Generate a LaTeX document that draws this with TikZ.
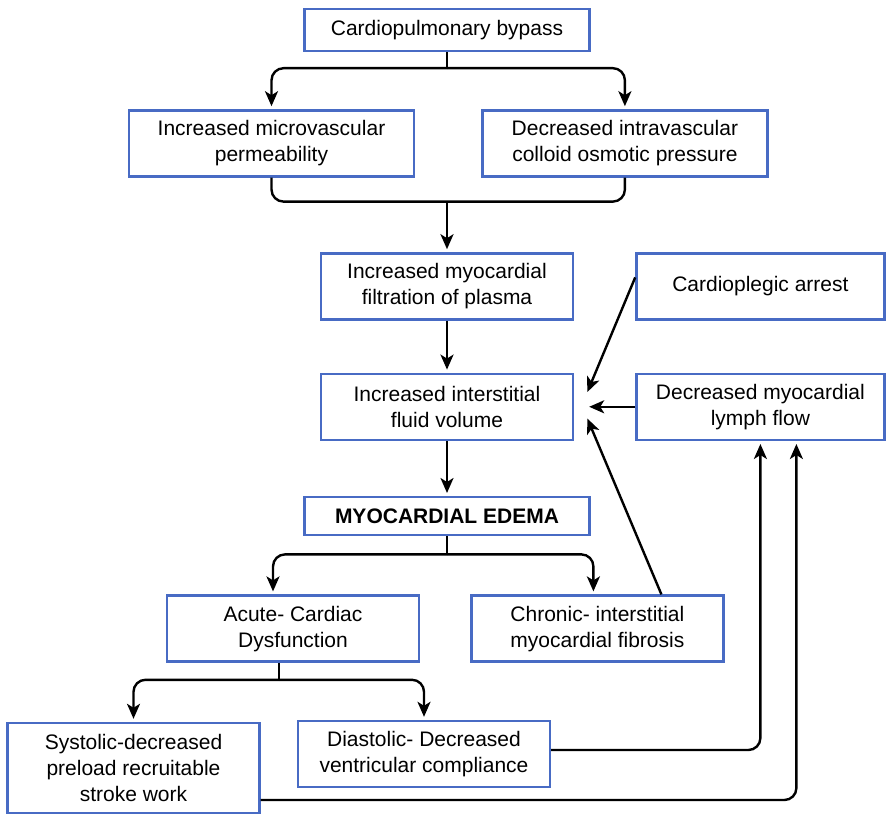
\documentclass[tikz,border=0pt]{standalone}
\usepackage{fontspec}
\setmainfont{Liberation Sans}
\usetikzlibrary{arrows.meta,positioning}
\definecolor{boxblue}{RGB}{72,107,196}

\begin{document}
\begin{tikzpicture}[
    x=1pt,y=1pt,
    >={Stealth[length=15pt,width=13pt,inset=4pt]},
    every node/.style={font=\fontsize{21}{26}\selectfont},
    box/.style={draw=boxblue,line width=2.4pt,align=center,minimum width=252pt,minimum height=66pt,inner sep=2pt},
    link/.style={line width=2.4pt,rounded corners=12pt},
    arr/.style={link,->,shorten >=3pt}
  ]
  \useasboundingbox (0,0) rectangle (889,-818);
  \node[box,minimum width=285pt,minimum height=42pt] (CPB) at (447,-30) {Cardiopulmonary bypass};
  \node[box,minimum width=285pt] (MP) [below=57pt of CPB,xshift=-175.5pt] {Increased microvascular\\permeability};
  \node[box,minimum width=285pt] (OP) [right=66pt of MP] {Decreased intravascular\\colloid osmotic pressure};
  \node[box] (MF) [below=200pt of CPB] {Increased myocardial\\filtration of plasma};
  \node[box] (IF) [below=52pt of MF] {Increased interstitial\\fluid volume};
  \node[box,minimum width=248pt] (CA) [right=61pt of MF] {Cardioplegic arrest};
  \node[box,minimum width=248pt] (LF) [right=61pt of IF] {Decreased myocardial\\lymph flow};
  \node[box,minimum width=285pt,minimum height=38pt,font=\fontsize{21}{26}\selectfont\bfseries] (ME) [below=55pt of IF] {MYOCARDIAL EDEMA};
  \node[box] (AC) [below=58pt of ME,xshift=-154pt] {Acute- Cardiac\\Dysfunction};
  \node[box] (CF) [right=50pt of AC] {Chronic- interstitial\\myocardial fibrosis};
  \node[box] (DD) [below=57pt of AC,xshift=131pt] {Diastolic- Decreased\\ventricular compliance};
  \node[box,minimum height=90pt] (SD) [below=59pt of AC,xshift=-159.5pt] {Systolic-decreased\\preload recruitable\\stroke work};

  % bypass splits in two
  \draw[link] (CPB.south) -- ++(0,-16) coordinate (j1);
  \draw[arr] (j1) -| (MP.north);
  \draw[arr] (j1) -| (OP.north);
  % both join again
  \draw[link] (MP.south) -- ++(0,-24) coordinate (j2) -| (OP.south);
  \draw[arr] (j2 -| MF.north) -- (MF.north);
  \draw[arr] (MF) -- (IF);
  \draw[arr] (IF) -- (ME);
  % edema
  \draw[link] (ME.south) -- ++(0,-18) coordinate (j3);
  \draw[arr] (j3) -| ([xshift=-20pt]AC.north);
  \draw[arr] (j3) -| ([xshift=-4pt]CF.north);
  \draw[link] ([xshift=-14pt]AC.south) -- ++(0,-17) coordinate (j4);
  \draw[arr] (j4) -| (SD.north);
  \draw[arr] (j4) -| (DD.north);
  % feedback to the fluid volume
  \draw[arr] ([yshift=9pt]CA.west) -- ([xshift=12pt,yshift=12pt]IF.east);
  \draw[arr] (LF.west) -- ([xshift=12pt]IF.east);
  \draw[arr] ([xshift=64pt]CF.north) -- ([xshift=12pt,yshift=-9pt]IF.east);
  \draw[arr] ([yshift=4pt]DD.east) -| (LF.south);
  \draw[arr] ([yshift=-32pt]SD.east) -| ([xshift=36pt]LF.south);
\end{tikzpicture}
\end{document}
